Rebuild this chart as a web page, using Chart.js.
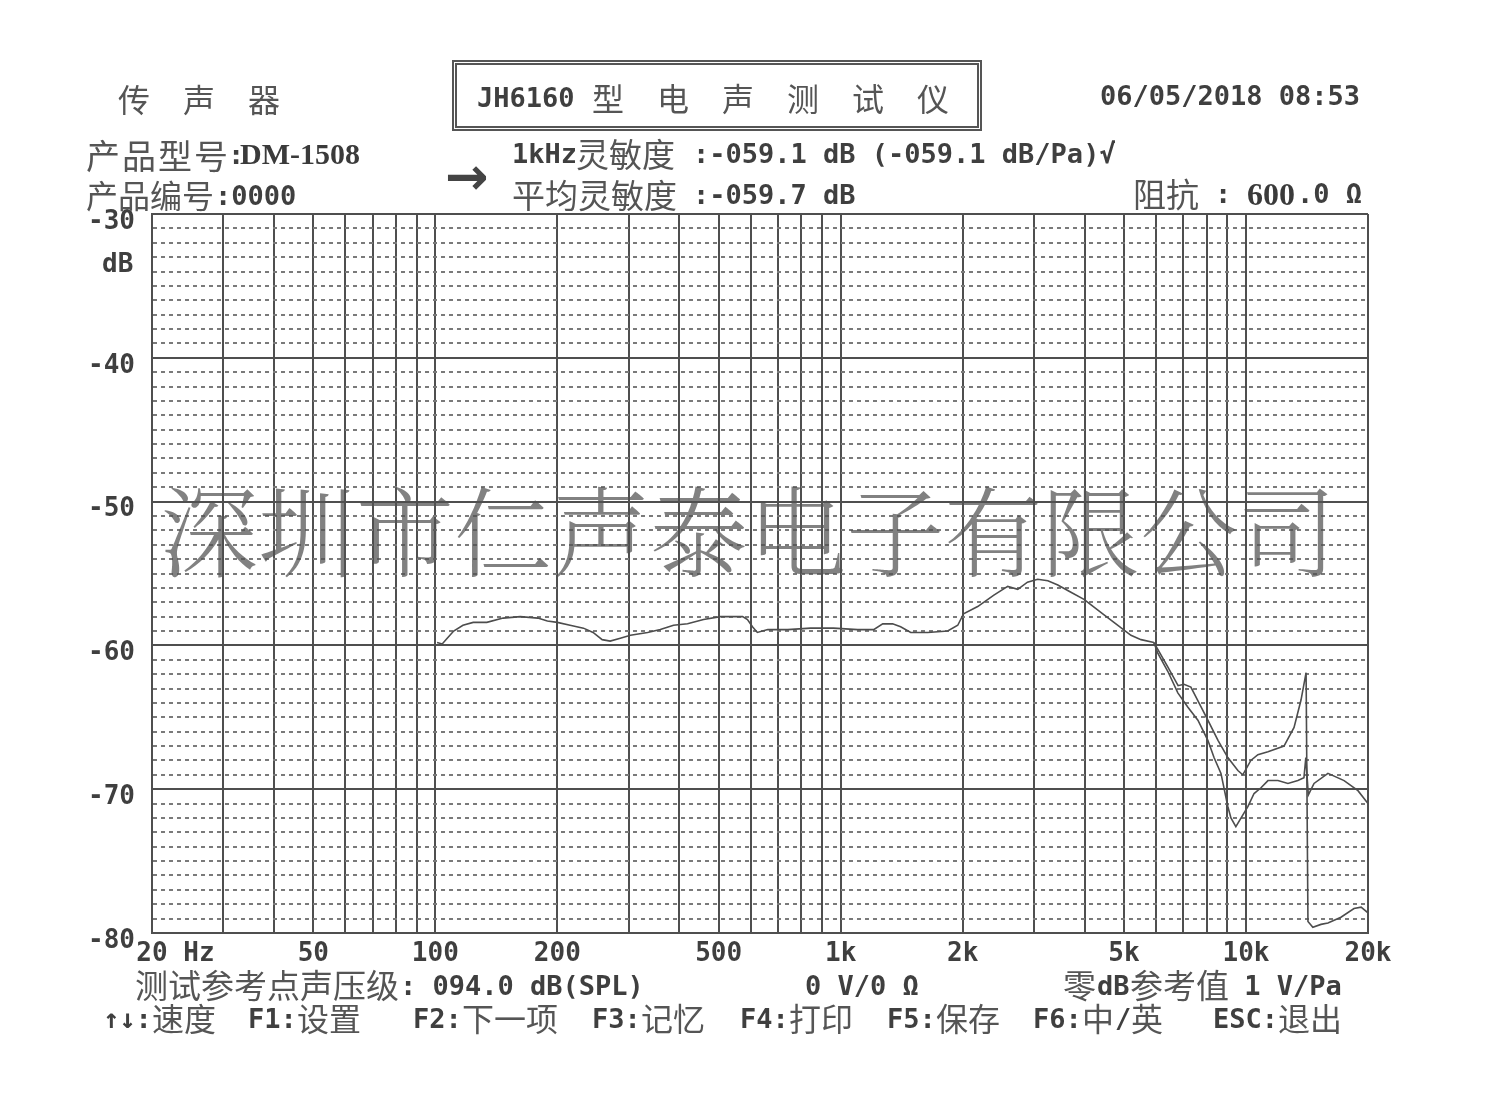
<!DOCTYPE html>
<html>
<head>
<meta charset="utf-8">
<script src="https://cdn.jsdelivr.net/npm/chart.js@4.4.1/dist/chart.umd.min.js"></script>
<style>
  html,body{margin:0;padding:0;background:#fff;}
  body{width:1500px;height:1117px;position:relative;overflow:hidden;}
  #c{position:absolute;left:0;top:0;}
  .t{position:absolute;white-space:pre;line-height:1;color:#4a4a4a;}
  .cn{font-family:"Noto Sans CJK SC","Noto Sans CJK JP",sans-serif;color:#555;}
  .mono{font-family:"DejaVu Sans Mono",monospace;font-weight:bold;color:#3f3f3f;}
  .serif{font-family:"Liberation Serif",serif;font-weight:bold;color:#3a3a3a;}
  #titlebox{position:absolute;left:452px;top:60px;width:520px;height:61px;border:5px double #555;}
  #wm{position:absolute;left:160px;top:478px;font-family:"Noto Serif CJK SC","Noto Sans CJK SC",serif;font-weight:300;font-size:98px;line-height:1;color:rgba(80,80,80,0.72);white-space:pre;pointer-events:none;}
</style>
</head>
<body>
<canvas id="c" width="1500" height="1117"></canvas>

<!-- header -->
<div class="t cn" style="left:118px;top:82px;font-size:32px;letter-spacing:33px;">传声器</div>
<div id="titlebox"></div>
<div class="t mono" style="left:477px;top:84px;font-size:27px;">JH6160</div>
<div class="t cn" style="left:592px;top:81px;font-size:32px;letter-spacing:33px;">型电声测试仪</div>
<div class="t mono" style="left:1100px;top:82px;font-size:27px;">06/05/2018 08:53</div>

<div class="t cn" style="left:86px;top:138px;font-size:34px;letter-spacing:2px;">产品型号</div>
<div class="t mono" style="left:228px;top:141px;font-size:27px;">:</div>
<div class="t serif" style="left:240px;top:139px;font-size:30px;">DM-1508</div>
<div class="t cn" style="left:86px;top:178px;font-size:32px;">产品编号</div>
<div class="t mono" style="left:215px;top:182px;font-size:27px;">:0000</div>

<div class="t" style="left:445px;top:150px;font-family:'DejaVu Sans';font-weight:bold;font-size:52px;color:#444;">→</div>
<div class="t mono" style="left:512px;top:140px;font-size:27px;">1kHz</div>
<div class="t cn" style="left:576px;top:137px;font-size:33px;">灵敏度</div>
<div class="t mono" style="left:693px;top:140px;font-size:27px;">:-059.1 dB (-059.1 dB/Pa)√</div>
<div class="t cn" style="left:512px;top:178px;font-size:33px;">平均灵敏度</div>
<div class="t mono" style="left:693px;top:181px;font-size:27px;">:-059.7 dB</div>

<div class="t cn" style="left:1133px;top:177px;font-size:33px;">阻抗</div>
<div class="t mono" style="left:1215px;top:180px;font-size:27px;">:</div>
<div class="t serif" style="left:1247px;top:178px;font-size:32px;">600</div>
<div class="t mono" style="left:1297px;top:180px;font-size:27px;">.0 Ω</div>

<div class="t mono" style="left:102px;top:250px;font-size:26px;">dB</div>

<!-- footer -->
<div class="t cn" style="left:135px;top:968px;font-size:33px;">测试参考点声压级</div>
<div class="t mono" style="left:400px;top:972px;font-size:27px;">: 094.0 dB(SPL)</div>
<div class="t mono" style="left:805px;top:972px;font-size:27px;">0 V/0 Ω</div>
<div class="t cn" style="left:1063px;top:968px;font-size:33px;">零</div>
<div class="t mono" style="left:1097px;top:972px;font-size:27px;">dB</div>
<div class="t cn" style="left:1130px;top:968px;font-size:33px;">参考值</div>
<div class="t mono" style="left:1228px;top:972px;font-size:27px;"> 1 V/Pa</div>

<div class="t mono" style="left:103px;top:1005px;font-size:27px;">↑↓:</div>
<div class="t cn" style="left:152px;top:1001px;font-size:32px;">速度</div>
<div class="t mono" style="left:248px;top:1005px;font-size:27px;">F1:</div>
<div class="t cn" style="left:297px;top:1001px;font-size:32px;">设置</div>
<div class="t mono" style="left:413px;top:1005px;font-size:27px;">F2:</div>
<div class="t cn" style="left:462px;top:1001px;font-size:32px;">下一项</div>
<div class="t mono" style="left:592px;top:1005px;font-size:27px;">F3:</div>
<div class="t cn" style="left:641px;top:1001px;font-size:32px;">记忆</div>
<div class="t mono" style="left:740px;top:1005px;font-size:27px;">F4:</div>
<div class="t cn" style="left:789px;top:1001px;font-size:32px;">打印</div>
<div class="t mono" style="left:887px;top:1005px;font-size:27px;">F5:</div>
<div class="t cn" style="left:936px;top:1001px;font-size:32px;">保存</div>
<div class="t mono" style="left:1033px;top:1005px;font-size:27px;">F6:</div>
<div class="t cn" style="left:1082px;top:1001px;font-size:32px;">中</div>
<div class="t mono" style="left:1115px;top:1005px;font-size:27px;">/</div>
<div class="t cn" style="left:1131px;top:1001px;font-size:32px;">英</div>
<div class="t mono" style="left:1213px;top:1005px;font-size:27px;">ESC:</div>
<div class="t cn" style="left:1278px;top:1001px;font-size:32px;">退出</div>

<div id="wm">深圳市仁声泰电子有限公司</div>

<script>
// ---------- data ----------
// shared part of the response curve (Hz, dB)
const freqCommon = [101, 104, 107, 111, 117, 124, 134, 147, 162, 179, 189, 200, 215, 232, 245, 258, 270, 286, 303, 334, 359, 387, 419, 459, 505, 573, 589, 606, 623, 661, 740, 843, 960, 1101, 1206, 1270, 1343, 1406, 1489, 1640, 1837, 1945, 2010, 2178, 2388, 2583, 2735, 2890, 3062, 3245, 3434, 3699, 3984, 4384, 4830, 5203, 5509, 5929];
const dbCommon   = [-59.8, -59.9, -59.5, -59.0, -58.6, -58.4, -58.4, -58.1, -58.0, -58.1, -58.3, -58.4, -58.6, -58.8, -59.1, -59.6, -59.7, -59.5, -59.3, -59.1, -58.9, -58.6, -58.5, -58.2, -58.0, -58.0, -58.2, -58.7, -59.1, -58.9, -58.9, -58.8, -58.8, -58.9, -58.9, -58.5, -58.5, -58.7, -59.1, -59.1, -59.0, -58.6, -57.8, -57.3, -56.5, -55.9, -56.1, -55.6, -55.4, -55.5, -55.8, -56.3, -56.8, -57.7, -58.6, -59.3, -59.6, -59.8];

// branch A: steep fall, dip near 9.4 kHz, recovers to about -69 dB
const freqA = [5929, 6050, 6413, 6790, 7190, 7610, 8053, 8340, 8675, 9020, 9180, 9441, 10114, 10470, 10890, 11330, 11990, 12690, 13430, 13900, 14050, 14250, 14720, 15930, 17460, 18890, 20000];
const dbA   = [-59.8, -60.5, -61.8, -63.3, -64.3, -65.2, -66.6, -67.8, -68.9, -71.2, -72.0, -72.6, -71.2, -70.3, -69.9, -69.4, -69.4, -69.6, -69.4, -69.2, -67.8, -70.4, -69.6, -68.9, -69.4, -70.1, -71.0];

// branch B: small bump near 7 kHz, peak near 14 kHz, then drop to the floor
const freqB = [5929, 6413, 6800, 7032, 7312, 8053, 8530, 9020, 9550, 9820, 10280, 10700, 11330, 12410, 13140, 13670, 14070, 14220, 14620, 15310, 15930, 17150, 18470, 19230, 20000];
const dbB   = [-59.8, -61.5, -62.8, -62.7, -62.9, -65.2, -66.6, -67.8, -68.7, -69.0, -68.0, -67.6, -67.4, -67.0, -65.7, -63.8, -61.9, -79.2, -79.6, -79.4, -79.3, -78.9, -78.3, -78.2, -78.6];

// axes
const yMajorTicks = [-80, -70, -60, -50, -40, -30];
const xGridValues = [20, 30, 40, 50, 60, 70, 80, 90, 100, 200, 300, 400, 500, 600, 700, 800, 900, 1000, 2000, 3000, 4000, 5000, 6000, 7000, 8000, 9000, 10000, 20000];
const xLabelValues = [20, 50, 100, 200, 500, 1000, 2000, 5000, 10000, 20000];
const xLabelTexts  = ['   20 Hz', '50', '100', '200', '500', '1k', '2k', '5k', '10k', '20k'];

// ---------- chart ----------
const yGridValues = [];
for (let v = yMajorTicks[0]; v <= yMajorTicks[yMajorTicks.length - 1]; v++) yGridValues.push(v);

const toPts = (fs, ds) => fs.map((f, i) => ({x: f, y: ds[i]}));
const lineStyle = {borderColor: '#4d4d4d', borderWidth: 1.6, pointRadius: 0, fill: false, tension: 0};

const tickFont = {family: 'DejaVu Sans Mono', weight: 'bold', size: 26};

new Chart(document.getElementById('c'), {
  type: 'line',
  data: {
    datasets: [
      Object.assign({label: 'common', data: toPts(freqCommon, dbCommon)}, lineStyle),
      Object.assign({label: 'A', data: toPts(freqA, dbA)}, lineStyle),
      Object.assign({label: 'B', data: toPts(freqB, dbB)}, lineStyle)
    ]
  },
  options: {
    responsive: false,
    animation: false,
    devicePixelRatio: 1,
    layout: {padding: {top: 214, right: 132, left: 0, bottom: 0}},
    plugins: {legend: {display: false}, tooltip: {enabled: false}},
    scales: {
      x: {
        type: 'logarithmic',
        min: 20, max: 20000,
        afterBuildTicks: s => { s.ticks = xGridValues.map(v => ({value: v})); },
        afterFit: s => { s.height = 184; s.paddingLeft = 0; s.paddingRight = 0; },
        ticks: {
          autoSkip: false, maxRotation: 0, padding: 6,
          font: tickFont, color: '#3f3f3f',
          callback: v => { const i = xLabelValues.indexOf(v); return i >= 0 ? xLabelTexts[i] : ''; }
        },
        grid: {color: '#4f4f4f', lineWidth: 2, drawTicks: false},
        border: {display: true, color: '#4f4f4f', width: 2}
      },
      y: {
        type: 'linear',
        min: -80, max: -30,
        afterBuildTicks: s => { s.ticks = yGridValues.map(v => ({value: v})); },
        afterFit: s => { s.width = 152; s.paddingTop = 0; s.paddingBottom = 0; },
        ticks: {
          autoSkip: false, padding: 17, labelOffset: 8,
          font: tickFont, color: '#3f3f3f',
          callback: v => (yMajorTicks.includes(v) ? String(v) : '')
        },
        grid: {
          drawTicks: false,
          color: ctx => (ctx.tick && ctx.tick.value % 10 === 0) ? '#4f4f4f' : '#7a7a7a',
          lineWidth: 2
        },
        border: {
          display: true, color: '#4f4f4f', width: 2,
          dash: ctx => (ctx.type === 'tick' && ctx.tick && ctx.tick.value % 10 !== 0) ? [4, 4] : []
        }
      }
    }
  }
});
</script>
</body>
</html>
